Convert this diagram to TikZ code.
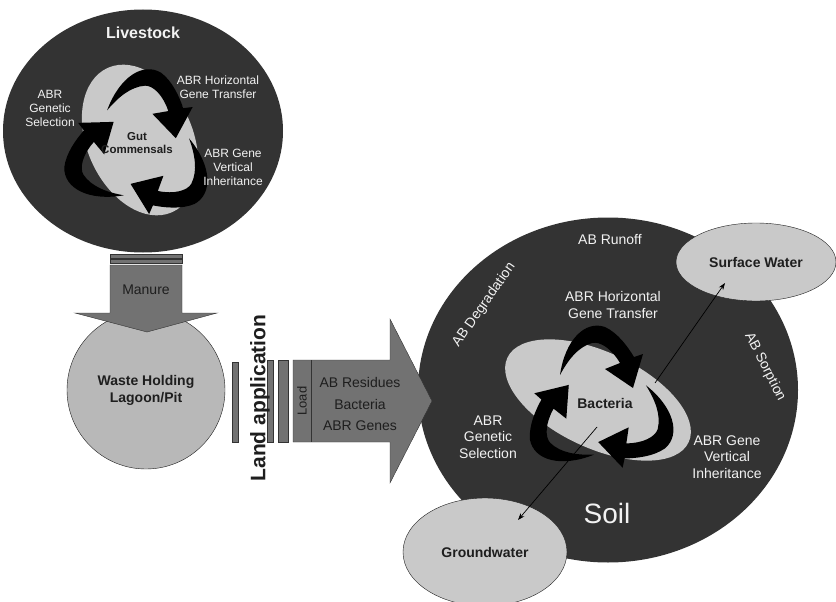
\documentclass[tikz,border=0pt]{standalone}
\usepackage{fontspec}
\setmainfont{Liberation Sans}
\usetikzlibrary{shapes.geometric,arrows.meta}
\definecolor{soilgray}{HTML}{333333}
\definecolor{palegray}{HTML}{C9C9C9}
\definecolor{lagoongray}{HTML}{B8B8B8}
\definecolor{pipegray}{HTML}{727272}
\definecolor{inkgray}{HTML}{1E1E1E}
\definecolor{chalk}{HTML}{F2F2F2}
\tikzset{
    dark-disc/.style = {ellipse, fill=soilgray, inner sep=0pt},
    light-disc/.style = {ellipse, fill=palegray, inner sep=0pt},
    water-disc/.style = {ellipse, fill=palegray, draw=inkgray, thin, inner sep=0pt, text=inkgray, font=\fontsize{14}{16}\selectfont\bfseries},
    lagoon-disc/.style = {ellipse, fill=lagoongray, draw=inkgray, thin, inner sep=0pt, align=center, text=inkgray, font=\fontsize{14}{17}\selectfont\bfseries},
    gray-arrow/.style = {fill=pipegray, draw=soilgray, thin},
    gray-bar/.style = {fill=pipegray, draw=soilgray, thin},
    chalk-label/.style = {text=chalk, align=center, inner sep=1pt, font=\fontsize{14}{16.5}\selectfont},
    small-chalk-label/.style = {text=chalk, align=center, inner sep=1pt, font=\fontsize{12}{14}\selectfont},
    ink-label/.style = {text=inkgray, align=center, inner sep=1pt, font=\fontsize{14}{21.5}\selectfont},
    thin-link/.style = {draw=black, line width=0.7pt, -{Stealth[length=7pt,width=5pt]}},
    recycle-swoosh/.pic = {
        \fill[black] (-40,-30) .. controls (-35,-65) and (-15,-85) .. (5,-78)
            .. controls (18,-72) and (28,-58) .. (34,-48) -- (43,-51) -- (33,-17) -- (5,-36) -- (20,-42)
            .. controls (12,-56) and (0,-64) .. (-8,-62)
            .. controls (-22,-58) and (-32,-45) .. cycle;
    },
}
\begin{document}
\begin{tikzpicture}[x=1pt, y=-1pt]
\useasboundingbox (0,0) rectangle (836,602);

% livestock
\node[dark-disc, minimum width=280pt, minimum height=243pt] (livestock) at (143,131) {};
\node[light-disc, minimum width=158pt, minimum height=106pt, rotate=-66] (gut) at (140,140) {};
\pic[rotate=-12] at (140,148) {recycle-swoosh};
\pic[rotate=-132] at (140,148) {recycle-swoosh};
\pic[rotate=108] at (140,148) {recycle-swoosh};
\node[chalk-label, font=\fontsize{16}{18}\selectfont\bfseries] (livestock-title) at (143,33) {Livestock};
\node[small-chalk-label] (gut-hgt) at (218,87) {ABR Horizontal\\Gene Transfer};
\node[small-chalk-label] (gut-sel) at (50,108) {ABR\\Genetic\\Selection};
\node[small-chalk-label] (gut-vert) at (233,167) {ABR Gene\\Vertical\\Inheritance};
\node[text=inkgray, align=center, inner sep=1pt, font=\fontsize{11.5}{13.5}\selectfont\bfseries] (gut-title) at (137,143) {Gut\\Commensals};

% lagoon and manure
\node[lagoon-disc, minimum width=158pt, minimum height=158pt] (lagoon) at (146,390) {Waste Holding\\Lagoon/Pit};
\draw[gray-bar] (110,254) rectangle (182,258);
\draw[gray-bar] (110,259.5) rectangle (182,263.5);
\draw[gray-arrow] (110,265) -- (182,265) -- (182,313) -- (217,313) -- (147,332) -- (75,313) -- (110,313) -- cycle;
\node[ink-label] (manure) at (146,290) {Manure};

% soil
\node[dark-disc, minimum width=380pt, minimum height=345pt] (soil) at (608,390) {};
\node[water-disc, minimum width=160pt, minimum height=78pt] (surface) at (756,262) {Surface Water};
\node[water-disc, minimum width=164pt, minimum height=108pt] (ground) at (485,552) {Groundwater};
\node[light-disc, minimum width=200pt, minimum height=96pt, rotate=-25] (soilcore) at (598,400) {};
\pic at (600,405) {recycle-swoosh};
\pic[rotate=-120] at (600,405) {recycle-swoosh};
\pic[rotate=120] at (600,405) {recycle-swoosh};
\node[text=inkgray, inner sep=1pt, font=\fontsize{14}{16}\selectfont\bfseries] (bacteria) at (605,403) {Bacteria};
\node[chalk-label] (soil-hgt) at (613,305) {ABR Horizontal\\Gene Transfer};
\node[chalk-label] (soil-sel) at (488,437) {ABR\\Genetic\\Selection};
\node[chalk-label] (soil-vert) at (727,457) {ABR Gene\\Vertical\\Inheritance};
\node[chalk-label] (runoff) at (610,240) {AB Runoff};
\node[chalk-label, rotate=55] (degradation) at (484,305) {AB Degradation};
\node[chalk-label, rotate=-63] (sorption) at (765,367) {AB Sorption};
\node[chalk-label, font=\fontsize{28}{30}\selectfont] (soil-title) at (607,513) {Soil};
\coordinate (runoff-from) at (655,383);
\coordinate (runoff-to) at (725,283);
\draw[thin-link] (runoff-from) -- (runoff-to);
\coordinate (leach-from) at (597,427);
\coordinate (leach-to) at (518,520);
\draw[thin-link] (leach-from) -- (leach-to);

% land application
\draw[gray-bar] (232,362) rectangle (238,442);
\draw[gray-bar] (267.5,360) rectangle (273,442);
\draw[gray-bar] (278,360) rectangle (288,442);
\draw[gray-arrow] (293,360) -- (390,360) -- (390,319) -- (432,401) -- (390,483) -- (390,442) -- (293,442) -- cycle;
\draw[soilgray, thin] (311,360) -- (311,442);
\node[text=inkgray, inner sep=0pt, rotate=90, font=\fontsize{21}{23}\selectfont\bfseries] (land-app) at (260,398) {Land application};
\node[text=inkgray, inner sep=0pt, rotate=90, font=\fontsize{13}{15}\selectfont] (load) at (302,401) {Load};
\node[ink-label] (load-items) at (360,404) {AB Residues\\Bacteria\\ABR Genes};
\end{tikzpicture}
\end{document}
